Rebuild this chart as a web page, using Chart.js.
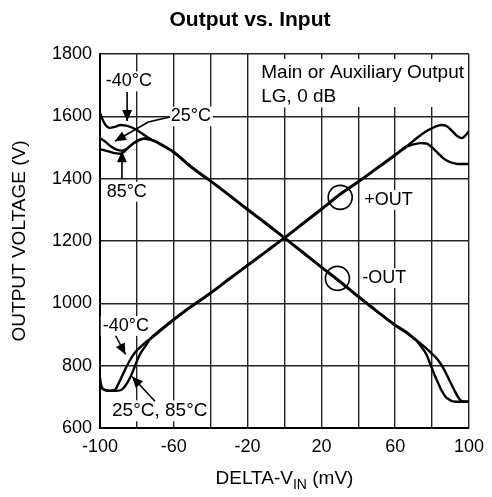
<!DOCTYPE html>
<html><head><meta charset="utf-8">
<script src="https://cdn.jsdelivr.net/npm/chart.js@4/dist/chart.umd.min.js"></script>
<style>html,body{margin:0;padding:0;background:#fff}</style>
</head><body>
<canvas id="c" width="492" height="497"></canvas>
<script>
// ---------- data (x in mV, y in V) ----------
const xTickLabels = [-100, -60, -20, 20, 60, 100];
const yTickValues = [600, 800, 1000, 1200, 1400, 1600, 1800];

// -OUT : shared central part
const negMainX = [-70, -60, -50, -40, -30, -20, -10, 0, 10, 20, 30, 40, 50, 60, 66, 71];
const negMainY = [1520, 1485, 1435, 1392, 1347, 1301, 1256, 1210, 1163, 1116, 1070, 1022, 975, 930, 907, 884];
// -OUT : left ends by temperature
const negM40X = [-100, -99, -97, -95, -92, -89, -86, -83, -80, -76, -72, -70];
const negM40Y = [1612, 1595, 1572, 1563, 1566, 1572, 1570, 1565, 1556, 1540, 1525, 1520];
const neg25X = [-100, -97, -94, -91, -88, -85, -82, -79, -76, -73, -70];
const neg25Y = [1530, 1518, 1503, 1493, 1490, 1498, 1513, 1524, 1529, 1526, 1520];
const neg85X = [-100, -97, -94, -91, -89, -87, -85, -82, -79, -76, -73, -70];
const neg85Y = [1495, 1490, 1485, 1481, 1480, 1486, 1498, 1513, 1523, 1528, 1526, 1520];
// -OUT : right ends
const negRightAX = [71, 74, 77, 79, 81, 83, 85, 87, 89, 91, 93, 100];
const negRightAY = [884, 862, 835, 805, 775, 748, 722, 703, 692, 686, 684, 684];
const negRightBX = [71, 74, 77, 80, 83, 86, 89, 92, 94, 96, 100];
const negRightBY = [884, 870, 855, 838, 820, 793, 758, 722, 700, 686, 684];

// +OUT : shared central part
const posMainX = [-73, -70, -60, -50, -40, -30, -20, -10, 0, 10, 20, 30, 40, 50, 60, 66];
const posMainY = [885, 900, 948, 992, 1033, 1078, 1122, 1166, 1210, 1256, 1302, 1349, 1390, 1433, 1476, 1503];
// +OUT : left ends
const posM40X = [-100, -99.5, -98, -95, -92, -90, -87, -84, -81, -78, -75.5, -73];
const posM40Y = [762, 740, 724, 720, 722, 742, 780, 815, 842, 860, 874, 885];
const pos2585X = [-100, -99, -97, -94, -91, -88, -86, -84, -82, -80, -78, -75.5, -73];
const pos2585Y = [740, 728, 721, 719, 719, 724, 738, 758, 784, 815, 840, 862, 885];
// +OUT : right ends
const posRightAX = [66, 70, 75, 80, 85, 88, 91, 94, 96, 98, 100];
const posRightAY = [1503, 1522, 1545, 1562, 1572, 1568, 1552, 1535, 1530, 1538, 1553];
const posRightBX = [66, 70, 74, 77, 80, 83, 86, 89, 92, 95, 100];
const posRightBY = [1503, 1510, 1514, 1513, 1500, 1483, 1466, 1455, 1449, 1447, 1447];

// ---------- build ----------
const FONT = '"Liberation Sans", Arial, Helvetica, sans-serif';
const pts = (xs, ys) => xs.map((x, i) => ({x: x, y: ys[i]}));
const series = [
  [negMainX, negMainY, 3], [negM40X, negM40Y, 2.4], [neg25X, neg25Y, 2.4], [neg85X, neg85Y, 2.4],
  [negRightAX, negRightAY, 2.4], [negRightBX, negRightBY, 2.4],
  [posMainX, posMainY, 3], [posM40X, posM40Y, 2.4], [pos2585X, pos2585Y, 2.4],
  [posRightAX, posRightAY, 2.4], [posRightBX, posRightBY, 2.4]
];
const datasets = series.map(s => ({
  data: pts(s[0], s[1]), showLine: true, borderColor: '#000', borderWidth: s[2],
  pointRadius: 0, fill: false, cubicInterpolationMode: 'monotone'
}));

// annotation texts: [text, x, y, align, size]
const labels = [
  ['Main or Auxiliary Output', -12.6, 1739, 'left', 19],
  ['LG, 0 dB', -12.6, 1662, 'left', 19],
  ['-40\u00B0C', -84.4, 1712, 'center', 18],
  ['25\u00B0C', -61.6, 1600, 'left', 18],
  ['85\u00B0C', -85.5, 1358, 'center', 18],
  ['+OUT', 43.2, 1332, 'left', 18],
  ['-OUT', 42.2, 1081, 'left', 18],
  ['-40\u00B0C', -86, 927, 'center', 18],
  ['25\u00B0C, 85\u00B0C', -67.6, 655, 'center', 19]
];

const deco = {
  id: 'deco',
  beforeDatasetsDraw(chart) {
    const ctx = chart.ctx, xs = chart.scales.x, ys = chart.scales.y;
    ctx.save(); ctx.fillStyle = '#fff';
    labels.forEach(l => {
      ctx.font = l[4] + 'px ' + FONT;
      const w = ctx.measureText(l[0]).width;
      const px = xs.getPixelForValue(l[1]), py = ys.getPixelForValue(l[2]);
      const x0 = l[3] === 'center' ? px - w / 2 : px;
      ctx.fillRect(x0 - 2, py - l[4] * 0.55, w + 4, l[4] * 1.1);
    });
    // box behind the header text block
    const bx = xs.getPixelForValue(-14);
    ctx.fillRect(bx, ys.getPixelForValue(1784), chart.chartArea.right - bx - 1.5, ys.getPixelForValue(1630) - ys.getPixelForValue(1784));
    ctx.restore();
  },
  afterDatasetsDraw(chart) {
    const ctx = chart.ctx, xs = chart.scales.x, ys = chart.scales.y;
    const P = (x, y) => [xs.getPixelForValue(x), ys.getPixelForValue(y)];
    ctx.save();
    ctx.fillStyle = '#000'; ctx.strokeStyle = '#000';
    labels.forEach(l => {
      const p = P(l[1], l[2]);
      ctx.font = l[4] + 'px ' + FONT;
      ctx.textAlign = l[3]; ctx.textBaseline = 'middle';
      ctx.fillText(l[0], p[0], p[1]);
    });
    const arrow = (pl) => {
      const q = pl.map(a => P(a[0], a[1]));
      ctx.lineWidth = 1.6; ctx.beginPath();
      ctx.moveTo(q[0][0], q[0][1]);
      for (let i = 1; i < q.length; i++) ctx.lineTo(q[i][0], q[i][1]);
      ctx.stroke();
      const a = q[q.length - 2], b = q[q.length - 1];
      const ang = Math.atan2(b[1] - a[1], b[0] - a[0]);
      const L = 11, W = 5;
      ctx.beginPath();
      ctx.moveTo(b[0], b[1]);
      ctx.lineTo(b[0] - L * Math.cos(ang) + W * Math.sin(ang), b[1] - L * Math.sin(ang) - W * Math.cos(ang));
      ctx.lineTo(b[0] - L * Math.cos(ang) - W * Math.sin(ang), b[1] - L * Math.sin(ang) + W * Math.cos(ang));
      ctx.closePath(); ctx.fill();
    };
    const circle = (x, y, r) => {
      const p = P(x, y);
      ctx.lineWidth = 1.6; ctx.beginPath(); ctx.arc(p[0], p[1], r, 0, Math.PI * 2); ctx.stroke();
    };
    arrow([[-85.3, 1678], [-85.3, 1585]]);
    arrow([[-62, 1598], [-73.8, 1582], [-91.9, 1520]]);
    arrow([[-88.1, 1398], [-88.1, 1488]]);
    circle(30.2, 1340, 12);
    circle(28.7, 1080, 12);
    arrow([[-91.5, 896], [-86.2, 836]]);
    arrow([[-70.2, 686], [-82.7, 765]]);
    ctx.restore();
  },
  afterDraw(chart) {
    const ctx = chart.ctx, area = chart.chartArea;
    ctx.save(); ctx.fillStyle = '#000'; ctx.textBaseline = 'middle';
    ctx.font = 'bold 21px ' + FONT; ctx.textAlign = 'center';
    ctx.fillText('Output vs. Input', 250, 20);
    // x axis title with subscript
    const cx = (area.left + area.right) / 2, y = 479;
    const a = 'DELTA-V', c = ' (mV)';
    ctx.font = '19px ' + FONT; const wa = ctx.measureText(a).width, wc = ctx.measureText(c).width;
    ctx.font = '14px ' + FONT; const wb = ctx.measureText('IN').width;
    let x0 = cx - (wa + wb + wc) / 2;
    ctx.textAlign = 'left';
    ctx.font = '19px ' + FONT; ctx.fillText(a, x0, y);
    ctx.font = '14px ' + FONT; ctx.fillText('IN', x0 + wa, y + 6);
    ctx.font = '19px ' + FONT; ctx.fillText(c, x0 + wa + wb, y);
    ctx.restore();
  }
};

new Chart(document.getElementById('c'), {
  type: 'scatter',
  data: { datasets: datasets },
  options: {
    responsive: false, animation: false, devicePixelRatio: 1,
    layout: { padding: { left: 0, right: 15, top: 54, bottom: 0 } },
    plugins: { legend: { display: false }, tooltip: { enabled: false }, title: { display: false } },
    scales: {
      x: {
        type: 'linear', min: -100, max: 100,
        afterFit: s => { s.height = 69; },
        afterBuildTicks: s => { s.ticks = [-100,-80,-60,-40,-20,0,20,40,60,80,100].map(v => ({value: v})); },
        ticks: { autoSkip: false, maxRotation: 0, padding: 8, color: '#000', font: { family: FONT, size: 18 },
                 callback: v => xTickLabels.includes(v) ? String(v) : '' },
        grid: { color: '#222', lineWidth: 1.4, drawTicks: false },
        border: { color: '#000', width: 2 }
      },
      y: {
        type: 'linear', min: 600, max: 1800,
        afterFit: s => { s.width = 100; },
        afterBuildTicks: s => { s.ticks = yTickValues.map(v => ({value: v})); },
        ticks: { padding: 8, color: '#000', font: { family: FONT, size: 18 }, callback: v => String(v) },
        grid: { color: '#222', lineWidth: 1.4, drawTicks: false },
        border: { color: '#000', width: 2 },
        title: { display: true, text: 'OUTPUT VOLTAGE (V)', color: '#000', font: { family: FONT, size: 19 }, padding: { top: 8, bottom: 0 } }
      }
    }
  },
  plugins: [deco]
});
</script>
</body></html>
